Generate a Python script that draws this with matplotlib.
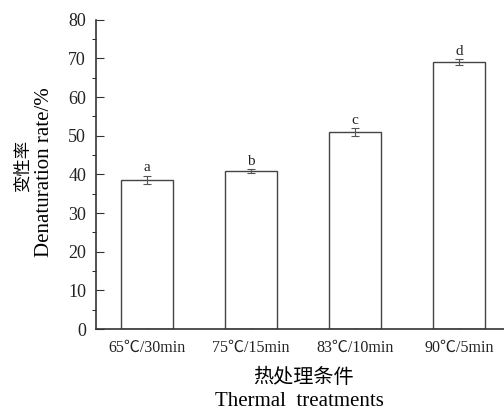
import matplotlib
matplotlib.use("Agg")
import matplotlib.pyplot as plt
from matplotlib.ticker import MultipleLocator

categories = ["65℃/30min", "75℃/15min", "83℃/10min", "90℃/5min"]
values = [38.6, 40.9, 51.0, 69.1]
errors = [1.0, 0.5, 1.0, 0.7]
letters = ["a", "b", "c", "d"]

plt.rcParams['font.family'] = ['Liberation Serif', 'Noto Sans CJK SC', 'DejaVu Sans']

fig = plt.figure(figsize=(5.04, 4.13), dpi=100)
ax = fig.add_axes([0.19, 0.203, 0.81, 0.749])

x = range(len(categories))
ax.bar(x, values, width=0.5, color='white', edgecolor='#444444', linewidth=1.0, zorder=2)
ax.errorbar(x, values, yerr=errors, fmt='none', ecolor='#555555', elinewidth=0.8,
            capsize=3, capthick=0.8, zorder=3)
for xi, v, e, l in zip(x, values, errors, letters):
    ax.text(xi, v + e + 0.4, l, ha='center', va='bottom', fontsize=11, color='#222222')

ax.set_xlim(-0.49, 3.43)
ax.set_ylim(0, 80)
ax.set_xticks(list(x))
ax.set_xticklabels(categories, fontsize=11.5)
ax.yaxis.set_major_locator(MultipleLocator(10))
ax.yaxis.set_minor_locator(MultipleLocator(5))
ax.tick_params(axis='both', direction='in', colors='#333333', labelcolor='#222222')
ax.tick_params(axis='y', which='major', length=6, labelsize=13, pad=7)
ax.tick_params(axis='y', which='minor', length=3)
ax.tick_params(axis='x', length=5, pad=8)
for s in ['top', 'right']:
    ax.spines[s].set_visible(False)
for s in ['left', 'bottom']:
    ax.spines[s].set_color('#333333')
    ax.spines[s].set_linewidth(1.2)

fig.text(0.046, 0.598, "变性率", rotation=90, ha='center', va='center', fontsize=12.5,
         family=['Noto Sans CJK SC'])
fig.text(0.089, 0.583, "Denaturation rate/%", rotation=90, ha='center', va='center', fontsize=15)
fig.text(0.602, 0.085, "热处理条件", ha='center', va='center', fontsize=14.5,
         family=['Noto Sans CJK SC'])
fig.text(0.595, 0.027, "Thermal  treatments", ha='center', va='center', fontsize=15)

fig.savefig("out.png", dpi=100, facecolor='white')
